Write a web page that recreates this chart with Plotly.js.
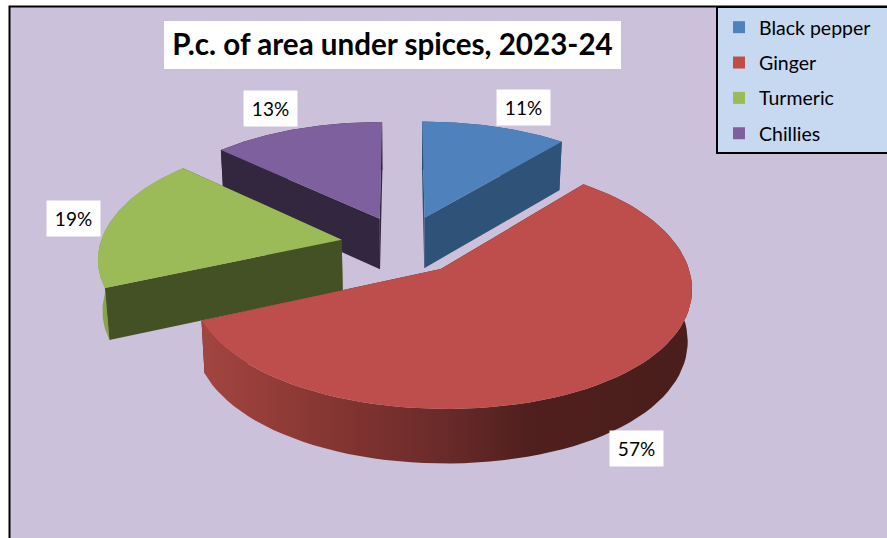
<!DOCTYPE html>
<html><head><meta charset="utf-8">
<script src="https://cdn.plot.ly/plotly-3.0.1.min.js"></script>
<style>html,body{margin:0;padding:0;background:#fff;overflow:hidden}#c{width:887px;height:538px}</style>
</head><body><div id="c"></div>
<script>
const categories = ["Black pepper","Ginger","Turmeric","Chillies"];
const values = [11,57.4,18.6,13];
const topColors = ["#4F81BD","#BD4E4B","#9BBB59","#7F609F"];
const cutColors = ["#2F5279","#4A1F1D","#445125","#33273F"];
const labelCentres = [[523.5,107.5],[636,448],[73.5,218.5],[270.5,108.5]];
const pull = [0.25,0.25,0.25,0.22];
const nudgeX = [2,0,1,-1];
const nudgeY = [-1.5,0,-1,-4];
const drawOrder = [3,0,2,1];

// Projection of the tilted pie
const cx=402, cy=245.5, A=250, B=115, p=0.13, H=51, q=0.015, squeeze=0.033;
function proj(u,v,z,i){
  const s=1/(1+p*v);
  let X=A*u*s, Y=-B*v*s;
  if(z){X*=1-q; Y+=H*Math.pow(s,0.4);}
  return [cx+X+nudgeX[i],cy+Y+nudgeY[i]];
}
const total=values.reduce((a,b)=>a+b,0);
let cum=0;
const slices=values.map((val,i)=>{
  const a0=cum/total*2*Math.PI; cum+=val; const a1=cum/total*2*Math.PI;
  const m=(a0+a1)/2;
  return {i,a0,a1,uc:pull[i]*Math.sin(m),vc:pull[i]*Math.cos(m)};
});
function rim(sl,t,z){
  const st=Math.sin(t);
  return proj(sl.uc+st-squeeze*st*st*st,sl.vc+Math.cos(t),z,sl.i);
}
function arc(sl,z,rev){
  const pts=[],n=80;
  for(let k=0;k<=n;k++) pts.push(rim(sl,sl.a0+(sl.a1-sl.a0)*k/n,z));
  return rev?pts.reverse():pts;
}
function edge(sl,a){
  return [proj(sl.uc,sl.vc,0,sl.i),rim(sl,a,0),rim(sl,a,1),proj(sl.uc,sl.vc,1,sl.i)];
}
function poly(pts,color,extra){
  return Object.assign({type:"scatter",mode:"lines",x:pts.map(d=>d[0]).concat(pts[0][0]),
    y:pts.map(d=>d[1]).concat(pts[0][1]),fill:"toself",fillcolor:color,
    line:{width:0,color:color},showlegend:false,hoverinfo:"skip"},extra||{});
}
const traces=[];
drawOrder.forEach(i=>{
  const sl=slices[i];
  const wall=arc(sl,0,false).concat(arc(sl,1,true));
  if(i===1){
    traces.push(poly(edge(sl,sl.a0),cutColors[i]));
    traces.push(poly(edge(sl,sl.a1),cutColors[i]));
    traces.push(poly(wall,"#7A302D",{fillgradient:{type:"horizontal",colorscale:[
      [0,"#A34541"],[0.25,"#873633"],[0.5,"#692A29"],[0.68,"#4E1F1D"],[1,"#4A1E1C"]]}}));
  } else {
    traces.push(poly(wall,i===2?"#87A44C":cutColors[i]));
    traces.push(poly(edge(sl,sl.a0),cutColors[i]));
    traces.push(poly(edge(sl,sl.a1),cutColors[i]));
  }
  const top=[proj(sl.uc,sl.vc,0,i)].concat(arc(sl,0,false));
  traces.push(poly(top,topColors[i]));
});
categories.forEach((c,i)=>traces.push({type:"scatter",mode:"markers",x:[null],y:[null],name:c,
  legendgroup:c,marker:{symbol:"square",size:12,color:topColors[i]},showlegend:true,hoverinfo:"skip"}));

const labelFont={family:"Lato, Carlito, sans-serif",size:19,color:"#000"};
const layout={
  width:887,height:538,margin:{l:0,r:0,t:0,b:0},paper_bgcolor:"#fff",plot_bgcolor:"rgba(0,0,0,0)",
  xaxis:{visible:false,range:[0,887],fixedrange:true},
  yaxis:{visible:false,range:[538,0],fixedrange:true},
  title:{text:"<b>P.c. of area under spices, 2023-24</b>",x:392.5/887,xanchor:"center",
    y:1-45/538,yanchor:"middle",font:{family:"Lato, Carlito, sans-serif",size:29.6,color:"#000"}},
  shapes:[
    {type:"rect",layer:"below",xref:"x",yref:"y",x0:9.5,y0:6.5,x1:950,y1:600,fillcolor:"#CBC1DA",line:{color:"#000",width:2}},
    {type:"rect",layer:"below",xref:"x",yref:"y",x0:164,y0:21,x1:621,y1:69,fillcolor:"#fff",line:{width:0}},
    {type:"rect",layer:"below",xref:"x",yref:"y",x0:717,y0:7,x1:950,y1:153,fillcolor:"#C6D9F1",line:{color:"#000",width:2}}
  ],
  annotations:categories.map((c,i)=>({xref:"x",yref:"y",x:labelCentres[i][0],y:labelCentres[i][1],
    text:Math.round(values[i])+"%",showarrow:false,bgcolor:"#fff",width:53,height:35,borderpad:0,
    font:labelFont,xanchor:"center",yanchor:"middle",align:"center",valign:"middle"})),
  showlegend:true,
  legend:{x:717/887,xanchor:"left",y:1-6/538,yanchor:"top",bgcolor:"rgba(0,0,0,0)",bordercolor:"rgba(0,0,0,0)",borderwidth:2,
    traceorder:"grouped",tracegroupgap:7,font:{family:"Lato, Carlito, sans-serif",size:19.5,color:"#000"},
    entrywidth:140,entrywidthmode:"pixels"}
};
Plotly.newPlot("c",traces,layout,{displayModeBar:false,staticPlot:true});
</script></body></html>
